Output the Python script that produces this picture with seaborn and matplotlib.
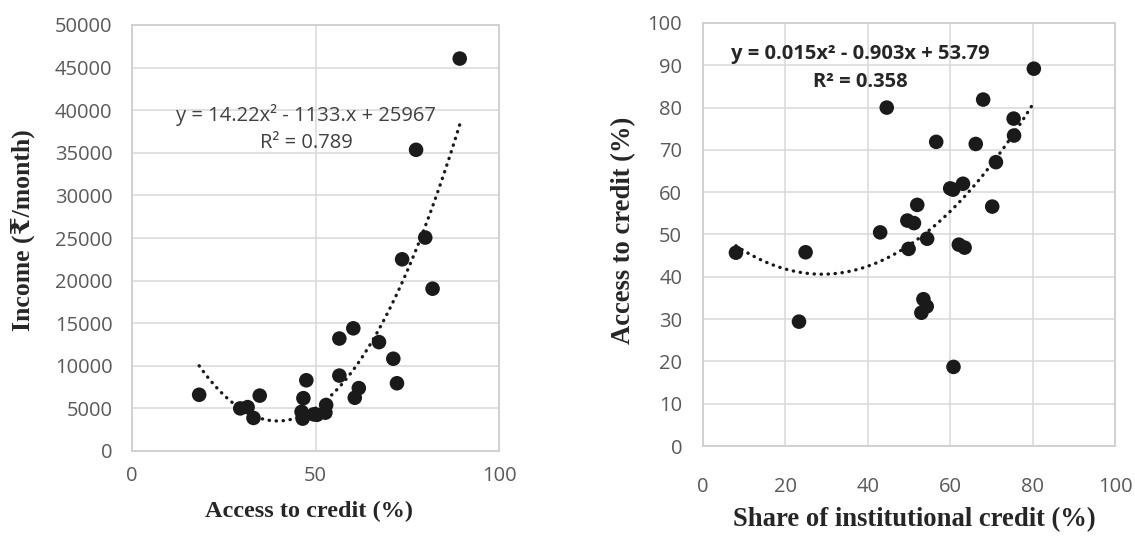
import matplotlib
matplotlib.use("Agg")
import matplotlib.pyplot as plt
import seaborn as sns
import numpy as np

# ---- data ----
left_access = [18.3, 29.5, 31.5, 33.1, 34.8, 47.5, 46.7, 46.2, 46.5, 49.5, 50.4, 52.9, 52.7,
               56.5, 56.5, 60.3, 60.7, 61.8, 67.3, 71.2, 72.2, 73.6, 77.4, 79.9, 81.9, 89.3]
left_income = [6600, 5000, 5150, 3880, 6500, 8300, 6200, 4600, 3800, 4300, 4250, 5400, 4500,
               8850, 13200, 14400, 6250, 7380, 12780, 10830, 7950, 22500, 35350, 25050, 19050, 46060]

right_share = [8.0, 24.9, 23.3, 43.0, 44.6, 49.6, 51.2, 52.0, 49.9, 54.4, 53.5, 54.3, 53.0, 56.6,
               60.0, 60.7, 63.1, 62.1, 63.5, 60.8, 66.2, 68.0, 70.2, 71.1, 75.4, 75.5, 80.3]
right_access = [45.7, 45.8, 29.4, 50.5, 80.0, 53.3, 52.7, 57.0, 46.6, 49.0, 34.7, 33.0, 31.5, 71.9,
                60.9, 60.6, 62.0, 47.6, 46.9, 18.7, 71.4, 81.9, 56.6, 67.1, 77.4, 73.4, 89.2]

left_eq = ["y = 14.22x\u00b2 - 1133.x + 25967", "R\u00b2 = 0.789"]
right_eq = ["y = 0.015x\u00b2 - 0.903x + 53.79", "R\u00b2 = 0.358"]

left_xticks = [0, 50, 100]
left_yticks = list(range(0, 50001, 5000))
right_xticks = list(range(0, 101, 20))
right_yticks = list(range(0, 101, 10))

# ---- style ----
sns.set_style("white")
plt.rcParams['font.family'] = ['Open Sans', 'DejaVu Sans']
serif = ['Liberation Serif', 'DejaVu Serif', 'DejaVu Sans']
tick_color = '#595959'
grid_color = '#d9d9d9'
pt_color = '#1a1a1a'

fig = plt.figure(figsize=(11.35, 5.37), dpi=100)
axL = fig.add_axes([132/1135, (537-451)/537, 367/1135, 426/537])
axR = fig.add_axes([703/1135, (537-446)/537, 412/1135, 423/537])

line_kws = dict(color=pt_color, lw=2.4, linestyle=(0, (0.1, 2.0)), dash_capstyle='round')
scatter_kws = dict(s=110, color=pt_color, edgecolors='none', alpha=1, zorder=3)

sns.regplot(x=left_access, y=left_income, order=2, ci=None, ax=axL,
            scatter_kws=scatter_kws, line_kws=line_kws)
sns.regplot(x=right_share, y=right_access, order=2, ci=None, ax=axR,
            scatter_kws=scatter_kws, line_kws=line_kws)

def style(ax, xt, yt, ylim, xpad, ypad):
    ax.set_xlim(0, 100)
    ax.set_ylim(*ylim)
    ax.set_xticks(xt)
    ax.set_yticks(yt)
    ax.set_axisbelow(True)
    ax.grid(True, color=grid_color, lw=1.1)
    for s in ax.spines.values():
        s.set_visible(True)
        s.set_color('#cfcfcf')
        s.set_linewidth(1.3)
    ax.tick_params(axis='x', length=0, pad=xpad, labelsize=14.5, labelcolor=tick_color)
    ax.tick_params(axis='y', length=0, pad=ypad, labelsize=14.5, labelcolor=tick_color)

style(axL, left_xticks, left_yticks, (0, 50000), 11, 14)
style(axR, right_xticks, right_yticks, (0, 100), 22, 15)

# axis labels
axL.set_xlabel("Access to credit (%)", family=serif, fontweight='bold', fontsize=17.5, va='center')
axL.xaxis.set_label_coords(0.482, -0.143)
axL.set_ylabel("Income (\u20b9/month)", family=serif, fontweight='bold', fontsize=18.5, va='center')
axL.yaxis.set_label_coords(-0.298, 0.518)

axR.set_xlabel("Share of institutional credit (%)", family=serif, fontweight='bold', fontsize=19.2, va='center')
axR.xaxis.set_label_coords(0.512, -0.175)
axR.set_ylabel("Access to credit (%)", family=serif, fontweight='bold', fontsize=19.2, va='center')
axR.yaxis.set_label_coords(-0.192, 0.51)

# equations
eq_fs = 14.5
axL.text(47.4, 39400, left_eq[0], ha='center', va='center', fontsize=eq_fs, color='#404040')
axL.text(47.4, 36150, left_eq[1], ha='center', va='center', fontsize=eq_fs, color='#404040')
axR.text(38.3, 92.7, right_eq[0], ha='center', va='center', fontsize=eq_fs, color='#262626', fontweight='bold')
axR.text(38.3, 86.0, right_eq[1], ha='center', va='center', fontsize=eq_fs, color='#262626', fontweight='bold')

fig.savefig("out.png", dpi=100)
